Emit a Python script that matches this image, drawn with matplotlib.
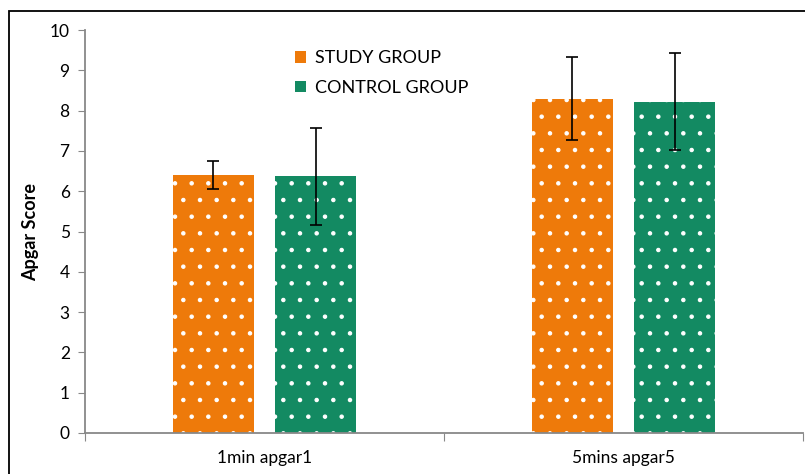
import numpy as np
import matplotlib.pyplot as plt
from matplotlib.patches import Rectangle

plt.rcParams['font.family'] = ['Lato', 'DejaVu Sans']
plt.rcParams['hatch.color'] = 'white'
plt.rcParams['hatch.linewidth'] = 0.8

categories = ['1min apgar1', '5mins apgar5']
groups = ['STUDY GROUP', 'CONTROL GROUP']
study_mean = [6.40, 8.29]
study_err = [0.35, 1.03]
control_mean = [6.37, 8.22]
control_err = [1.20, 1.20]
colors = ['#EE7A0A', '#138A62']

fig = plt.figure(figsize=(8.05, 4.74), dpi=100)
ax = fig.add_axes([0.1056, 0.0865, 0.892, 0.850])

# outer frame like the original picture
fig.patches.append(Rectangle((9 / 805, -0.1), 1.2, 1.1 - 11 / 474, transform=fig.transFigure,
                             fill=False, edgecolor='black', linewidth=1.3))

x = np.arange(len(categories)) + 0.5
w = 0.226
off = 0.143
for xs, m, e, c, lab in [(x - off, study_mean, study_err, colors[0], groups[0]),
                         (x + off, control_mean, control_err, colors[1], groups[1])]:
    ax.bar(xs, m, w, color=c, edgecolor='white', linewidth=0, hatch='.', label=lab)
    ax.errorbar(xs, m, yerr=e, fmt='none', ecolor='black', elinewidth=1.2, capsize=4.5, capthick=1.2)

ax.set_xlim(0, 2)
ax.set_ylim(0, 10)
ax.set_yticks(range(0, 11))
ax.set_xticks([0, 1, 2])
ax.set_xticklabels([])
ax.set_xticks(x, minor=True)
ax.set_xticklabels(categories, minor=True)
ax.tick_params(axis='x', which='minor', length=0, pad=12, labelsize=12.5)
ax.tick_params(axis='x', which='major', length=6, color='#888888')
ax.tick_params(axis='y', length=5, color='#888888', labelsize=12.5, pad=6)
for s in ['top', 'right']:
    ax.spines[s].set_visible(False)
for s in ['left', 'bottom']:
    ax.spines[s].set_color('#888888')
    ax.spines[s].set_linewidth(1.3)
ax.set_ylabel('Apgar Score', fontsize=13, fontweight='bold', labelpad=8)

ax.legend(loc='upper left', bbox_to_anchor=(0.27, 0.99), frameon=False, fontsize=13,
          handlelength=0.6, handleheight=0.6, handletextpad=0.5, labelspacing=0.75)

fig.savefig('out.png', dpi=100)
